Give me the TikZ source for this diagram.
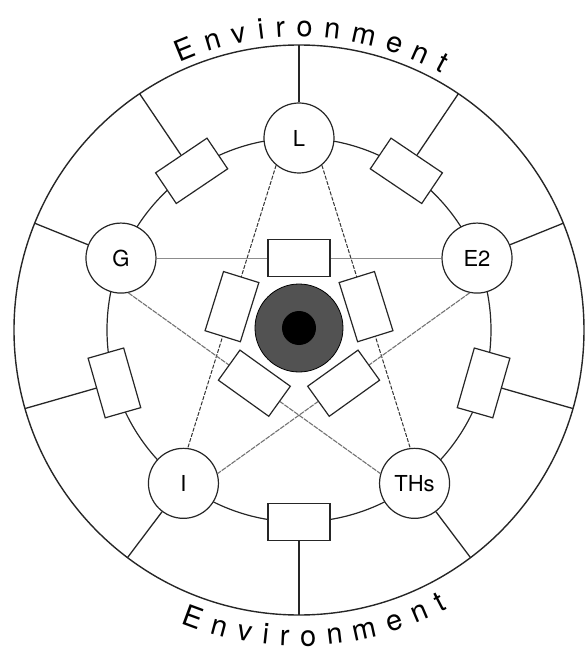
\documentclass[tikz,border=0pt]{standalone}
\usepackage{fontspec}
\setmainfont{TeX Gyre Heros}
\usetikzlibrary{decorations.text}
\begin{document}
\begin{tikzpicture}[x=1pt,y=1pt,
  ring/.style={line width=1.2pt, draw=black!85},
  spoke/.style={line width=1.3pt, draw=black!85},
  agent/.style={circle, draw=black!85, line width=1.2pt, fill=white, minimum size=70pt, inner sep=0pt, font=\fontsize{22}{22}\selectfont},
  slot/.style={rectangle, draw=black!85, line width=1.2pt, fill=white, minimum width=62pt, minimum height=37pt, inner sep=0pt},
  dline/.style={line width=1pt, dash pattern=on 4pt off 1.5pt, draw=black!80},
  gline/.style={line width=1.1pt, draw=black!45},
  gdline/.style={line width=1.1pt, dash pattern=on 5pt off 1pt, draw=black!55},
  envtext/.style={decorate, decoration={text along path, text align={fit to path},
     text={|\fontsize{29}{29}\selectfont|Environment}}}
]
\useasboundingbox (-299,-321) rectangle (286,330);
% circles
\draw[line width=1.4pt, draw=black!85] (0,0) circle (285);
\draw[ring] (0,0) circle (192);
% points on the outer circle
\foreach \n/\a in {oL/90, oG/158, oE/22, oI/233, oT/307, oB1/124, oB2/56, oB3/196, oB4/344, oB5/270}
  \coordinate (\n) at (\a:285);
% agents
\node[agent] (L) at (90:192) {L};
\node[agent] (G) at (158:192) {G};
\node[agent] (E2) at (22:192) {E2};
\node[agent] (I) at (233:192) {I};
\node[agent] (THs) at (307:192) {THs};
% ring boxes
\node[slot, rotate=34] (s1) at (124:192) {};
\node[slot, rotate=-34] (s2) at (56:192) {};
\node[slot, rotate=106] (s3) at (196:192) {};
\node[slot, rotate=74] (s4) at (344:192) {};
\node[slot] (s5) at (270:192) {};
% core
\node[circle, fill=black!68, draw=black, line width=0.8pt, minimum size=88pt, inner sep=0pt] (core) at (0,2) {};
\node[circle, fill=black, minimum size=34pt, inner sep=0pt] (dot) at (0,2) {};
% spokes
\draw[spoke] (L) -- (oL);
\draw[spoke] (G) -- (oG);
\draw[spoke] (E2) -- (oE);
\draw[spoke] (I) -- (oI);
\draw[spoke] (THs) -- (oT);
\draw[spoke] (s1) -- (oB1);
\draw[spoke] (s2) -- (oB2);
\draw[spoke] (s3) -- (oB3);
\draw[spoke] (s4) -- (oB4);
\draw[spoke] (s5) -- (oB5);
% star lines
\draw[dline] (L.230) -- (I.83);
\draw[dline] (L.310) -- (THs.97);
\draw[gline] (G) -- (E2);
\draw[gdline] (G.282) -- (THs.164);
\draw[gdline] (E2.258) -- (I.16);
% boxes on star lines
\path (L.230) -- node[slot, sloped, pos=0.5] (b1) {} (I.83);
\path (L.310) -- node[slot, sloped, pos=0.5] (b2) {} (THs.97);
\path (G) -- node[slot, pos=0.5] (b3) {} (E2);
\path (G.282) -- node[slot, sloped, pos=0.5] (b4) {} (THs.164);
\path (E2.258) -- node[slot, sloped, pos=0.5] (b5) {} (I.16);
% labels
\path[envtext] (114:293) arc[start angle=114, end angle=61, radius=293];
\path[envtext] (248:316) arc[start angle=248, end angle=298, radius=316];
\end{tikzpicture}
\end{document}
